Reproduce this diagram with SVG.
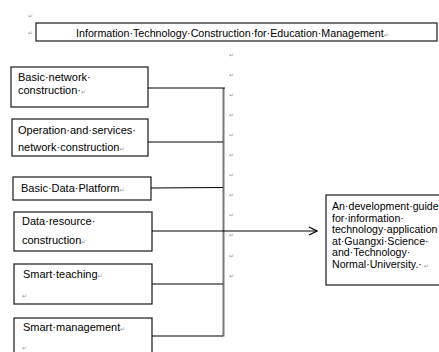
<svg xmlns="http://www.w3.org/2000/svg" width="439" height="352" viewBox="0 0 439 352">
<style>
.box{fill:#fff;stroke:#1a1a1a;stroke-width:1.2}
.t{font-family:"Liberation Sans",Arial,sans-serif;font-size:11px;fill:#000}
.m{font-family:"DejaVu Sans",sans-serif;font-size:6px;fill:#999}
.c{stroke:#000;stroke-width:1.2;fill:none}
</style>
<defs>
<marker id="arr" markerWidth="10" markerHeight="10" refX="9" refY="5" orient="auto" markerUnits="userSpaceOnUse">
<path d="M1,1 L9,5 L1,9" fill="none" stroke="#000" stroke-width="1.2"/>
</marker>
</defs>
<rect width="439" height="352" fill="#fff"/>
<g id="marks" class="m">
<text x="28" y="18">↵</text>
<text x="28" y="35">↵</text>
<text x="229" y="57">↵</text>
<text x="229" y="77">↵</text>
<text x="229" y="97">↵</text>
<text x="229" y="117">↵</text>
<text x="229" y="137">↵</text>
<text x="229" y="157">↵</text>
<text x="229" y="177">↵</text>
<text x="229" y="197">↵</text>
<text x="229" y="217">↵</text>
<text x="229" y="237">↵</text>
<text x="229" y="258">↵</text>
<text x="229" y="278">↵</text>
</g>
<g id="title">
<rect class="box" x="36" y="23" width="401" height="18"/>
<text class="t" x="76" y="36.5" style="font-size:10.7px">Information·Technology·Construction·for·Education·Management<tspan class="m">↵</tspan></text>
</g>
<g id="n1">
<rect class="box" x="11" y="67" width="137" height="40"/>
<text class="t" x="18" y="81">Basic·network·</text>
<text class="t" x="18" y="94">construction·<tspan class="m">↵</tspan></text>
</g>
<g id="n2">
<rect class="box" x="12" y="119" width="136" height="37"/>
<text class="t" x="18" y="134">Operation·and·services·</text>
<text class="t" x="18" y="151">network·construction<tspan class="m">↵</tspan></text>
</g>
<g id="n3">
<rect class="box" x="13" y="177" width="138" height="23"/>
<text class="t" x="21" y="192">Basic·Data·Platform<tspan class="m">↵</tspan></text>
</g>
<g id="n4">
<rect class="box" x="14" y="212" width="138" height="39"/>
<text class="t" x="22" y="225">Data·resource·</text>
<text class="t" x="22" y="244">construction<tspan class="m">↵</tspan></text>
</g>
<g id="n5">
<rect class="box" x="14" y="264" width="138" height="40"/>
<text class="t" x="23" y="278">Smart·teaching<tspan class="m">↵</tspan></text>
<text class="m" x="22" y="298">↵</text>
</g>
<g id="n6">
<rect class="box" x="14" y="318" width="138" height="40"/>
<text class="t" x="23" y="331">Smart·management<tspan class="m">↵</tspan></text>
<text class="m" x="22" y="350">↵</text>
</g>
<g id="n7">
<rect class="box" x="326" y="195" width="120" height="90"/>
<text class="t" x="332" y="210" style="font-size:10.6px">An·development·guide</text>
<text class="t" x="332" y="221.5" style="font-size:10.6px">for·information·</text>
<text class="t" x="332" y="233" style="font-size:10.6px">technology·application</text>
<text class="t" x="332" y="244.5" style="font-size:10.6px">at·Guangxi·Science·</text>
<text class="t" x="332" y="256" style="font-size:10.6px">and·Technology·</text>
<text class="t" x="332" y="267.5" style="font-size:10.6px">Normal·University.·<tspan class="m">·↵</tspan></text>
</g>
<g id="connectors">
<line x1="223.5" y1="88" x2="223.5" y2="336.5" stroke="#777" stroke-width="2"/>
<line class="c" x1="148" y1="88" x2="225" y2="88"/>
<line class="c" x1="148" y1="142" x2="223" y2="142"/>
<line class="c" x1="151" y1="188" x2="223" y2="187.5"/>
<line class="c" x1="152" y1="231" x2="317" y2="231" marker-end="url(#arr)"/>
<line class="c" x1="152" y1="284" x2="223" y2="284"/>
<line class="c" x1="152" y1="336" x2="223" y2="336"/>
</g>
</svg>
